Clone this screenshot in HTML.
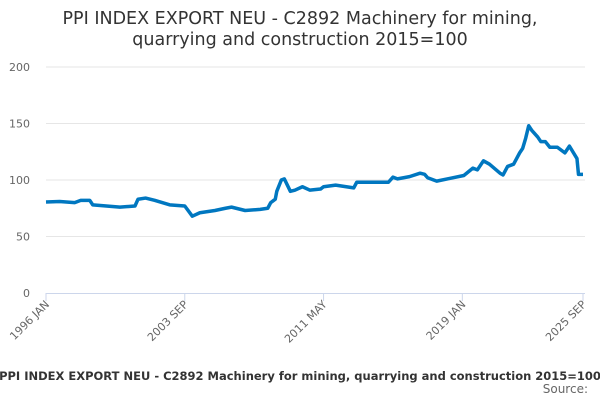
<!DOCTYPE html>
<html><head><meta charset="utf-8"><style>
body{margin:0;width:600px;height:400px;overflow:hidden;background:#fff;font-family:"DejaVu Sans","Liberation Sans",sans-serif}
</style></head><body>
<svg width="600" height="400" font-family="DejaVu Sans, Liberation Sans, sans-serif">
<text x="300" y="24" text-anchor="middle" font-size="17.5" fill="#333">PPI INDEX EXPORT NEU - C2892 Machinery for mining,</text>
<text x="300" y="45" text-anchor="middle" font-size="17.5" fill="#333">quarrying and construction 2015=100</text>
<g id="grid"></g><g id="xaxis"></g><g id="series"></g>
<text x="300" y="380" text-anchor="middle" font-size="11.5" font-weight="bold" fill="#333">PPI INDEX EXPORT NEU - C2892 Machinery for mining, quarrying and construction 2015=100</text>
<text x="588" y="393" text-anchor="end" font-size="12" fill="#666">Source:</text>
</svg>
<script>
const yTicks=[0,50,100,150,200];
const xLabels=["1996 JAN","2003 SEP","2011 MAY","2019 JAN","2025 SEP"];
const xLabelMonths=[0,92,184,276,356];
const months=[0,9,19,23,29,31,49,59,61,66,72,82,92,97,102,112,119,123,132,142,147,149,152,153,156,158,162,165,170,175,182,184,192,204,206,227,230,233,241,248,251,253,259,268,277,283,286,290,294,301,303,306,310,314,316,318,320,322,326,328,331,334,339,344,347,352,353,356];
const values=[80.5,81,80,82,82,78,76,77,83,84,82,78,77,68,71,73,75,76,73,74,75,80,83,90,100,101,90,91,94,91,92,94,95.5,93,98,98,102.5,101,103,106,105,102,99,101.5,104,110.5,109,117,114,106,104.5,112,114,124,128,137,148,144,138,134,134,129,129,124,130,119,105,105];
const NS="http://www.w3.org/2000/svg";
const X0=46,X1=583,Y0=293,Y1=67;
const xs=m=>X0+(X1-X0)*m/356, ys=v=>Y0-(Y0-Y1)*v/200;
const grid=document.getElementById('grid');
yTicks.forEach(t=>{
 if(t>0){const l=document.createElementNS(NS,'line');
 l.setAttribute('x1',X0);l.setAttribute('x2',X1+2);l.setAttribute('y1',ys(t));l.setAttribute('y2',ys(t));l.setAttribute('stroke','#e6e6e6');
 
 grid.appendChild(l);}
 const tx=document.createElementNS(NS,'text');tx.textContent=t;
 tx.setAttribute('x',30);tx.setAttribute('y',ys(t)+4);tx.setAttribute('text-anchor','end');tx.setAttribute('font-size','11');tx.setAttribute('fill','#666');
 
 grid.appendChild(tx);
});
const xa=document.getElementById('xaxis');
const al=document.createElementNS(NS,'line');al.setAttribute('x1',X0);al.setAttribute('x2',X1+2);al.setAttribute('y1',Y0+0.5);al.setAttribute('y2',Y0+0.5);al.setAttribute('stroke','#ccd6eb');

xa.appendChild(al);
xLabels.forEach((s,i)=>{
 const x=xs(xLabelMonths[i]);
 const tk=document.createElementNS(NS,'line');tk.setAttribute('x1',x);tk.setAttribute('x2',x);tk.setAttribute('y1',Y0);tk.setAttribute('y2',Y0+8);tk.setAttribute('stroke','#ccd6eb');
 
 xa.appendChild(tk);
 const t=document.createElementNS(NS,'text');t.textContent=s;
 t.setAttribute('transform',`translate(${x+4},${Y0+12}) rotate(-45)`);t.setAttribute('text-anchor','end');t.setAttribute('font-size','11');t.setAttribute('fill','#666');
 
 xa.appendChild(t);
});
const sg=document.getElementById('series');
const p=document.createElementNS(NS,'polyline');
p.setAttribute('points',months.map((m,i)=>xs(m)+','+ys(values[i])).join(' '));
p.setAttribute('fill','none');p.setAttribute('stroke','#0077c0');p.setAttribute('stroke-width','3.5');p.setAttribute('stroke-linejoin','round');

sg.appendChild(p);
</script>
</body></html>
